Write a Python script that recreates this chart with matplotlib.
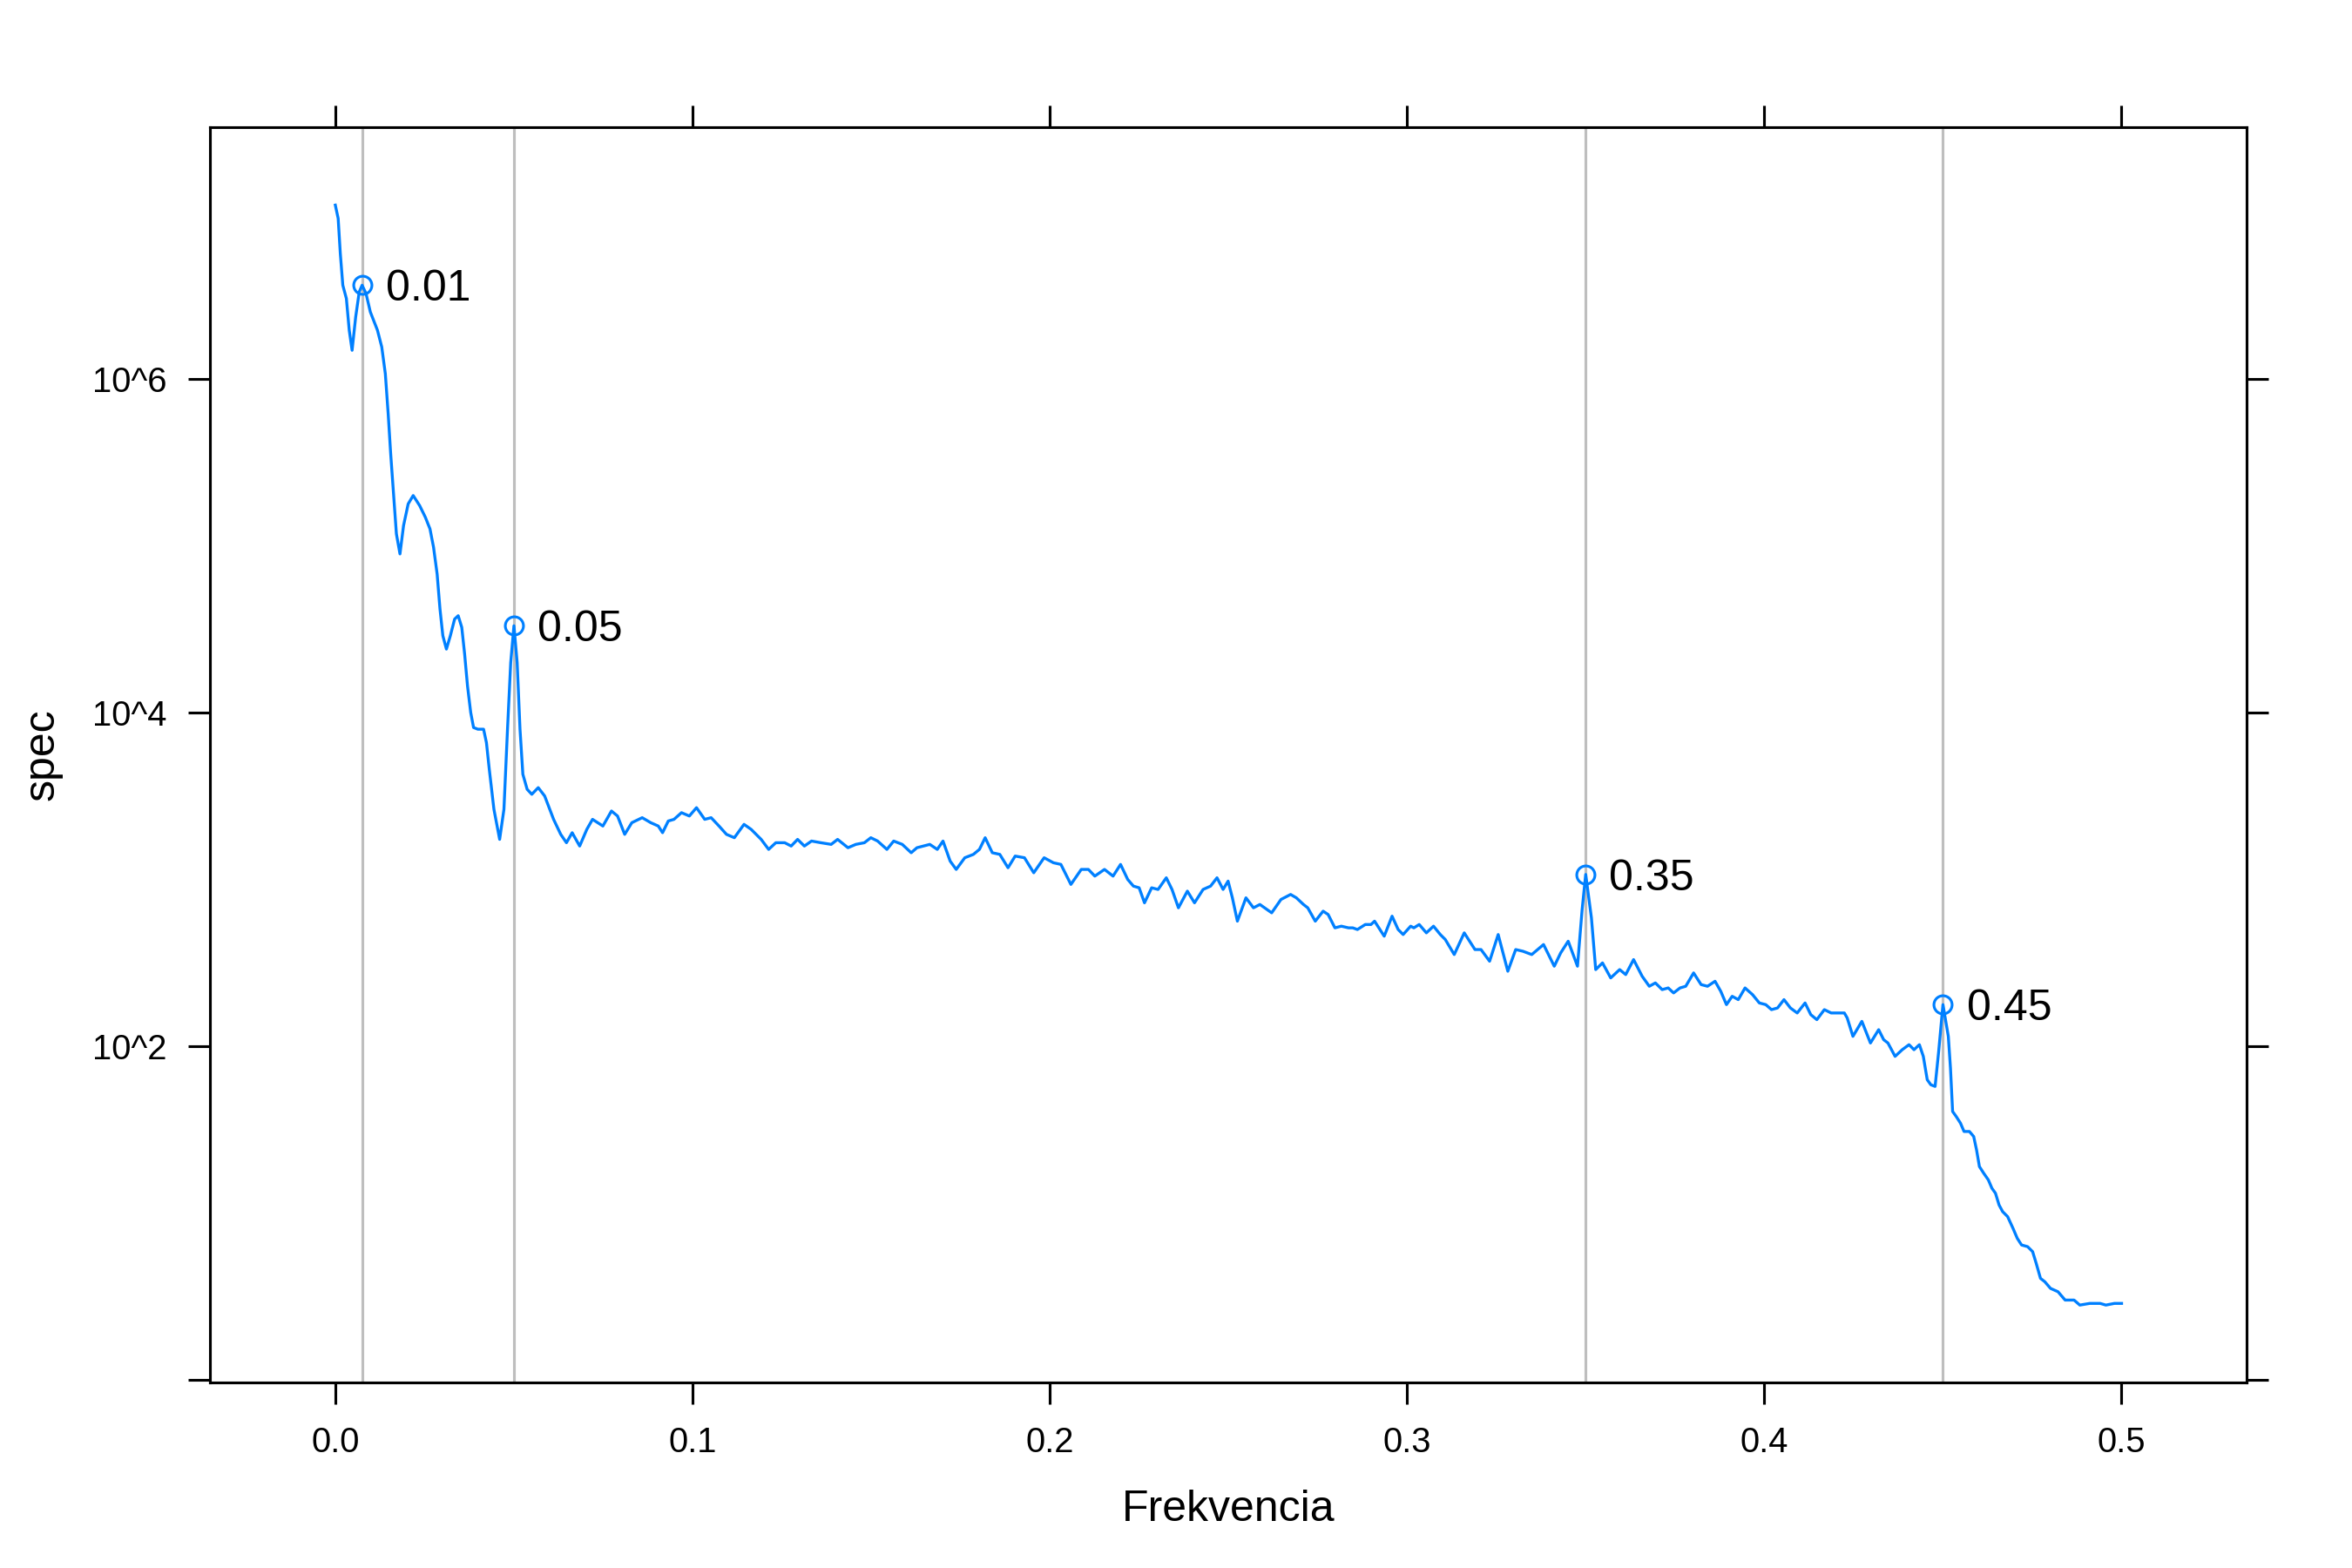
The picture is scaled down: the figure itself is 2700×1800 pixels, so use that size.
import matplotlib
matplotlib.use("Agg")
import matplotlib.pyplot as plt

# smoothed periodogram (log10 of spec)
freq = [0.0, 0.0008, 0.0014, 0.0021, 0.0031, 0.0039, 0.0047, 0.0057, 0.0067, 0.0075,
        0.0086, 0.0098, 0.0118, 0.0130, 0.0140, 0.0148, 0.0155, 0.0163, 0.0171, 0.0181,
        0.0191, 0.0204, 0.0218, 0.0236, 0.0252, 0.0265, 0.0275, 0.0285, 0.0293, 0.0301,
        0.0311, 0.0322, 0.0334, 0.0344, 0.0354, 0.0362, 0.0370, 0.0379, 0.0387, 0.0399,
        0.0415, 0.0423, 0.0431, 0.0444, 0.0460, 0.0472, 0.0482, 0.0491, 0.0500, 0.0509,
        0.0517, 0.0525, 0.0537, 0.0550, 0.0568, 0.0586, 0.0611, 0.0631, 0.0647, 0.0663,
        0.0684, 0.0704, 0.0720, 0.0749, 0.0773, 0.0790, 0.0810, 0.0830, 0.0859, 0.0883,
        0.0904, 0.0916, 0.0932, 0.0948, 0.0969, 0.0991, 0.1011, 0.1034, 0.1052, 0.1074,
        0.1095, 0.1117, 0.1144, 0.1164, 0.1192, 0.1213, 0.1233, 0.1258, 0.1276, 0.1294,
        0.1313, 0.1333, 0.1359, 0.1388, 0.1406, 0.1435, 0.1457, 0.1481, 0.1499, 0.1518,
        0.1544, 0.1563, 0.1587, 0.1612, 0.1628, 0.1664, 0.1685, 0.1701, 0.1721, 0.1738,
        0.1762, 0.1786, 0.1803, 0.1819, 0.1839, 0.1860, 0.1883, 0.1903, 0.1929, 0.1955,
        0.1984, 0.2010, 0.2031, 0.2059, 0.2088, 0.2108, 0.2126, 0.2153, 0.2177, 0.2198,
        0.2218, 0.2234, 0.2250, 0.2265, 0.2285, 0.2303, 0.2326, 0.2342, 0.2360, 0.2385,
        0.2405, 0.2429, 0.2450, 0.2468, 0.2485, 0.2499, 0.2511, 0.2525, 0.2549, 0.2570,
        0.2588, 0.2621, 0.2647, 0.2674, 0.2690, 0.2710, 0.2722, 0.2743, 0.2765, 0.2779,
        0.2798, 0.2816, 0.2836, 0.2848, 0.2861, 0.2883, 0.2899, 0.2909, 0.2936, 0.2958,
        0.2975, 0.2989, 0.3010, 0.3019, 0.3034, 0.3054, 0.3074, 0.3093, 0.3107, 0.3132,
        0.3160, 0.3190, 0.3207, 0.3231, 0.3255, 0.3282, 0.3304, 0.3324, 0.3349, 0.3382,
        0.3412, 0.3430, 0.3451, 0.3477, 0.3490, 0.3500, 0.3516, 0.3528, 0.3547, 0.3570,
        0.3595, 0.3612, 0.3634, 0.3658, 0.3678, 0.3695, 0.3714, 0.3731, 0.3746, 0.3764,
        0.3780, 0.3802, 0.3823, 0.3841, 0.3862, 0.3878, 0.3894, 0.3910, 0.3927, 0.3946,
        0.3967, 0.3986, 0.4004, 0.4020, 0.4037, 0.4055, 0.4073, 0.4092, 0.4114, 0.4130,
        0.4147, 0.4168, 0.4187, 0.4224, 0.4232, 0.4248, 0.4273, 0.4297, 0.4320, 0.4334,
        0.4346, 0.4366, 0.4386, 0.4405, 0.4419, 0.4434, 0.4445, 0.4456, 0.4466, 0.4478,
        0.4488, 0.4500, 0.4515, 0.4521, 0.4527, 0.4537, 0.4549, 0.4559, 0.4574, 0.4586,
        0.4594, 0.4602, 0.4614, 0.4627, 0.4637, 0.4647, 0.4657, 0.4667, 0.4681, 0.4696,
        0.4708, 0.4720, 0.4737, 0.4751, 0.4761, 0.4773, 0.4785, 0.4801, 0.4822, 0.4842,
        0.4867, 0.4883, 0.4911, 0.4940, 0.4956, 0.4980, 0.5000]
log_spec = [7.04, 6.96, 6.75, 6.56, 6.48, 6.29, 6.17, 6.37, 6.52, 6.56,
            6.51, 6.40, 6.29, 6.19, 6.03, 5.79, 5.55, 5.31, 5.07, 4.95,
            5.12, 5.25, 5.30, 5.24, 5.17, 5.10, 4.99, 4.83, 4.62, 4.46,
            4.38, 4.46, 4.56, 4.58, 4.51, 4.35, 4.16, 4.00, 3.91, 3.90,
            3.90, 3.82, 3.66, 3.42, 3.24, 3.42, 3.90, 4.30, 4.52, 4.30,
            3.90, 3.63, 3.54, 3.51, 3.55, 3.50, 3.36, 3.27, 3.22, 3.28,
            3.20, 3.30, 3.36, 3.32, 3.41, 3.38, 3.27, 3.34, 3.37, 3.34,
            3.32, 3.28, 3.35, 3.36, 3.40, 3.38, 3.43, 3.36, 3.37, 3.32,
            3.27, 3.25, 3.33, 3.30, 3.24, 3.18, 3.22, 3.22, 3.20, 3.24,
            3.20, 3.23, 3.22, 3.21, 3.24, 3.19, 3.21, 3.22, 3.25, 3.23,
            3.18, 3.23, 3.21, 3.16, 3.19, 3.21, 3.18, 3.23, 3.11, 3.06,
            3.13, 3.15, 3.18, 3.25, 3.16, 3.15, 3.07, 3.14, 3.13, 3.04,
            3.13, 3.10, 3.09, 2.97, 3.06, 3.06, 3.02, 3.06, 3.02, 3.09,
            3.00, 2.96, 2.95, 2.86, 2.95, 2.94, 3.01, 2.94, 2.83, 2.93,
            2.86, 2.94, 2.96, 3.01, 2.94, 2.99, 2.89, 2.75, 2.89, 2.83,
            2.85, 2.80, 2.88, 2.91, 2.89, 2.85, 2.83, 2.75, 2.81, 2.79,
            2.71, 2.72, 2.71, 2.71, 2.70, 2.73, 2.73, 2.75, 2.66, 2.78,
            2.70, 2.67, 2.72, 2.71, 2.73, 2.68, 2.72, 2.67, 2.64, 2.55,
            2.68, 2.58, 2.58, 2.51, 2.67, 2.45, 2.58, 2.57, 2.55, 2.61,
            2.48, 2.56, 2.63, 2.48, 2.82, 3.03, 2.77, 2.46, 2.50, 2.41,
            2.46, 2.43, 2.52, 2.42, 2.36, 2.38, 2.34, 2.35, 2.32, 2.35,
            2.36, 2.44, 2.37, 2.36, 2.39, 2.33, 2.25, 2.30, 2.28, 2.35,
            2.31, 2.26, 2.25, 2.22, 2.23, 2.28, 2.23, 2.20, 2.26, 2.19,
            2.16, 2.22, 2.20, 2.20, 2.17, 2.06, 2.15, 2.02, 2.10, 2.04,
            2.02, 1.94, 1.98, 2.01, 1.98, 2.01, 1.94, 1.80, 1.77, 1.76,
            1.97, 2.25, 2.06, 1.87, 1.61, 1.58, 1.54, 1.49, 1.49, 1.46,
            1.38, 1.28, 1.24, 1.20, 1.15, 1.12, 1.05, 1.01, 0.98, 0.91,
            0.85, 0.81, 0.80, 0.77, 0.70, 0.61, 0.59, 0.55, 0.53, 0.48,
            0.48, 0.45, 0.46, 0.46, 0.45, 0.46, 0.46]

# marked peaks
peak_freq = [0.0075, 0.05, 0.35, 0.45]
peak_log_spec = [6.56, 4.52, 3.03, 2.25]
peak_labels = ["0.01", "0.05", "0.35", "0.45"]

x_ticks = [0.0, 0.1, 0.2, 0.3, 0.4, 0.5]
y_ticks = [0, 2, 4, 6]
y_tick_labels = ["", "10^2", "10^4", "10^6"]

plt.rcParams["font.family"] = ["Liberation Sans", "DejaVu Sans"]
line_col = "#0080ff"

fig = plt.figure(figsize=(9, 6), dpi=300)
ax = fig.add_axes([0.0894, 0.1185, 0.8658, 0.8002])

for f in peak_freq:
    ax.axvline(f, color="#bebebe", lw=0.75, zorder=1)

ax.plot(freq, log_spec, color=line_col, lw=0.8, zorder=2)
ax.plot(peak_freq, peak_log_spec, "o", mfc="none", mec=line_col, ms=5, mew=0.75, zorder=3)
for f, v, lab in zip(peak_freq, peak_log_spec, peak_labels):
    ax.annotate(lab, (f, v), xytext=(6.5, -1.2), textcoords="offset points",
                ha="left", va="center", fontsize=12)

ax.set_xlim(-0.035, 0.535)
ax.set_ylim(-0.012, 7.505)
ax.set_xticks(x_ticks)
ax.set_xticklabels(["%.1f" % t for t in x_ticks])
ax.set_yticks(y_ticks)
ax.set_yticklabels(y_tick_labels)
ax.tick_params(axis="both", direction="out", length=6, width=0.75, pad=6,
               labelsize=9.6, top=True, right=True)
for s in ax.spines.values():
    s.set_linewidth(0.75)

fig.text(0.5222, 0.0372, "Frekvencia", ha="center", va="center", fontsize=12)
fig.text(0.0178, 0.519, "spec", ha="center", va="center", rotation=90, fontsize=12)

fig.savefig("out.png", dpi=300)
